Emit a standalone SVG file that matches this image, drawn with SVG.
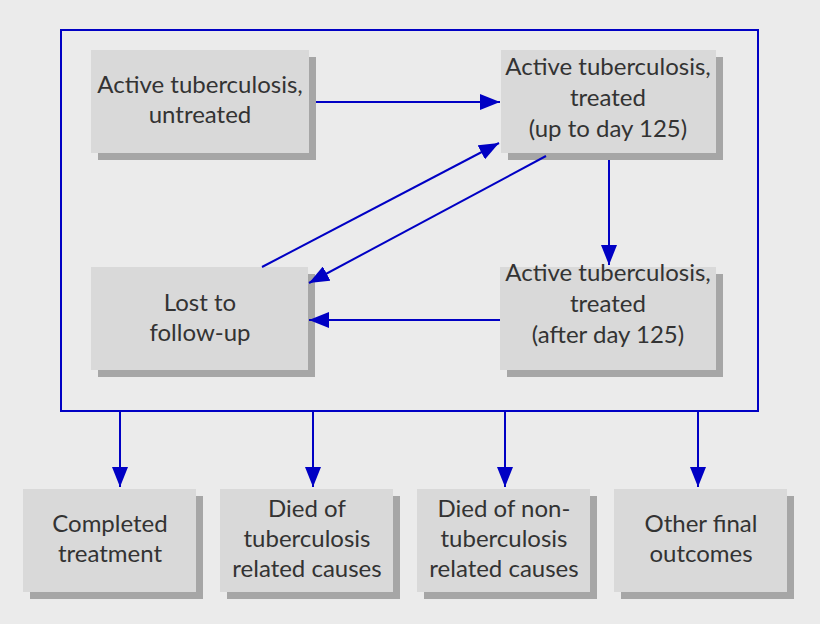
<svg xmlns="http://www.w3.org/2000/svg" width="820" height="624" viewBox="0 0 820 624">
<style>
.bg{fill:#ebebeb}
.sh{fill:#a6a6a6}
.bx{fill:#d9d9d9}
.t{font-family:Lato,"Open Sans","Liberation Sans",sans-serif;font-size:24px;fill:#333;text-anchor:middle}
.ln{stroke:#0000c4;stroke-width:2;fill:none}
</style>
<defs>
<marker id="ah" viewBox="0 0 20 16" refX="20" refY="8" markerWidth="20" markerHeight="16" markerUnits="userSpaceOnUse" orient="auto">
<path d="M0,0 L20,8 L0,16 Z" fill="#0000c4"/>
</marker>
</defs>
<rect class="bg" x="0" y="0" width="820" height="624"/>
<g id="frame"><rect class="ln" x="61" y="30" width="697" height="381"/></g>
<g id="n1"><rect class="sh" x="98" y="57" width="218" height="103"/><rect class="bx" x="91" y="50" width="218" height="103"/>
<text class="t" x="200" y="93">Active tuberculosis,</text><text class="t" x="200" y="123">untreated</text></g>
<g id="n2"><rect class="sh" x="508" y="57" width="215" height="103"/><rect class="bx" x="501" y="50" width="215" height="103"/>
<text class="t" x="608" y="75">Active tuberculosis,</text><text class="t" x="608" y="106">treated</text><text class="t" x="608" y="137">(up to day 125)</text></g>
<g id="n3"><rect class="sh" x="98" y="274" width="217" height="103"/><rect class="bx" x="91" y="267" width="217" height="103"/>
<text class="t" x="200" y="311">Lost to</text><text class="t" x="200" y="341">follow-up</text></g>
<g id="n4"><rect class="sh" x="507" y="274" width="216" height="103"/><rect class="bx" x="500" y="267" width="216" height="103"/>
<text class="t" x="608" y="281">Active tuberculosis,</text><text class="t" x="608" y="312">treated</text><text class="t" x="608" y="343">(after day 125)</text></g>
<g id="o1"><rect class="sh" x="30" y="496" width="173" height="103"/><rect class="bx" x="23" y="489" width="173" height="103"/>
<text class="t" x="110" y="532">Completed</text><text class="t" x="110" y="562">treatment</text></g>
<g id="o2"><rect class="sh" x="227" y="496" width="173" height="103"/><rect class="bx" x="220" y="489" width="173" height="103"/>
<text class="t" x="307" y="517">Died of</text><text class="t" x="307" y="547">tuberculosis</text><text class="t" x="307" y="577">related causes</text></g>
<g id="o3"><rect class="sh" x="424" y="496" width="173" height="103"/><rect class="bx" x="417" y="489" width="173" height="103"/>
<text class="t" x="504" y="517">Died of non-</text><text class="t" x="504" y="547">tuberculosis</text><text class="t" x="504" y="577">related causes</text></g>
<g id="o4"><rect class="sh" x="621" y="496" width="173" height="103"/><rect class="bx" x="614" y="489" width="173" height="103"/>
<text class="t" x="701" y="532">Other final</text><text class="t" x="701" y="562">outcomes</text></g>
<g id="connectors">
<line class="ln" x1="316" y1="102" x2="500" y2="102" marker-end="url(#ah)"/>
<line class="ln" x1="609" y1="160" x2="609" y2="265" marker-end="url(#ah)"/>
<line class="ln" x1="500" y1="320" x2="309" y2="320" marker-end="url(#ah)"/>
<line class="ln" x1="262" y1="267" x2="499" y2="143" marker-end="url(#ah)"/>
<line class="ln" x1="546" y1="156" x2="309" y2="283" marker-end="url(#ah)"/>
<line class="ln" x1="120" y1="411" x2="120" y2="487" marker-end="url(#ah)"/>
<line class="ln" x1="313" y1="411" x2="313" y2="487" marker-end="url(#ah)"/>
<line class="ln" x1="505" y1="411" x2="505" y2="487" marker-end="url(#ah)"/>
<line class="ln" x1="698" y1="411" x2="698" y2="487" marker-end="url(#ah)"/>
</g>
</svg>
